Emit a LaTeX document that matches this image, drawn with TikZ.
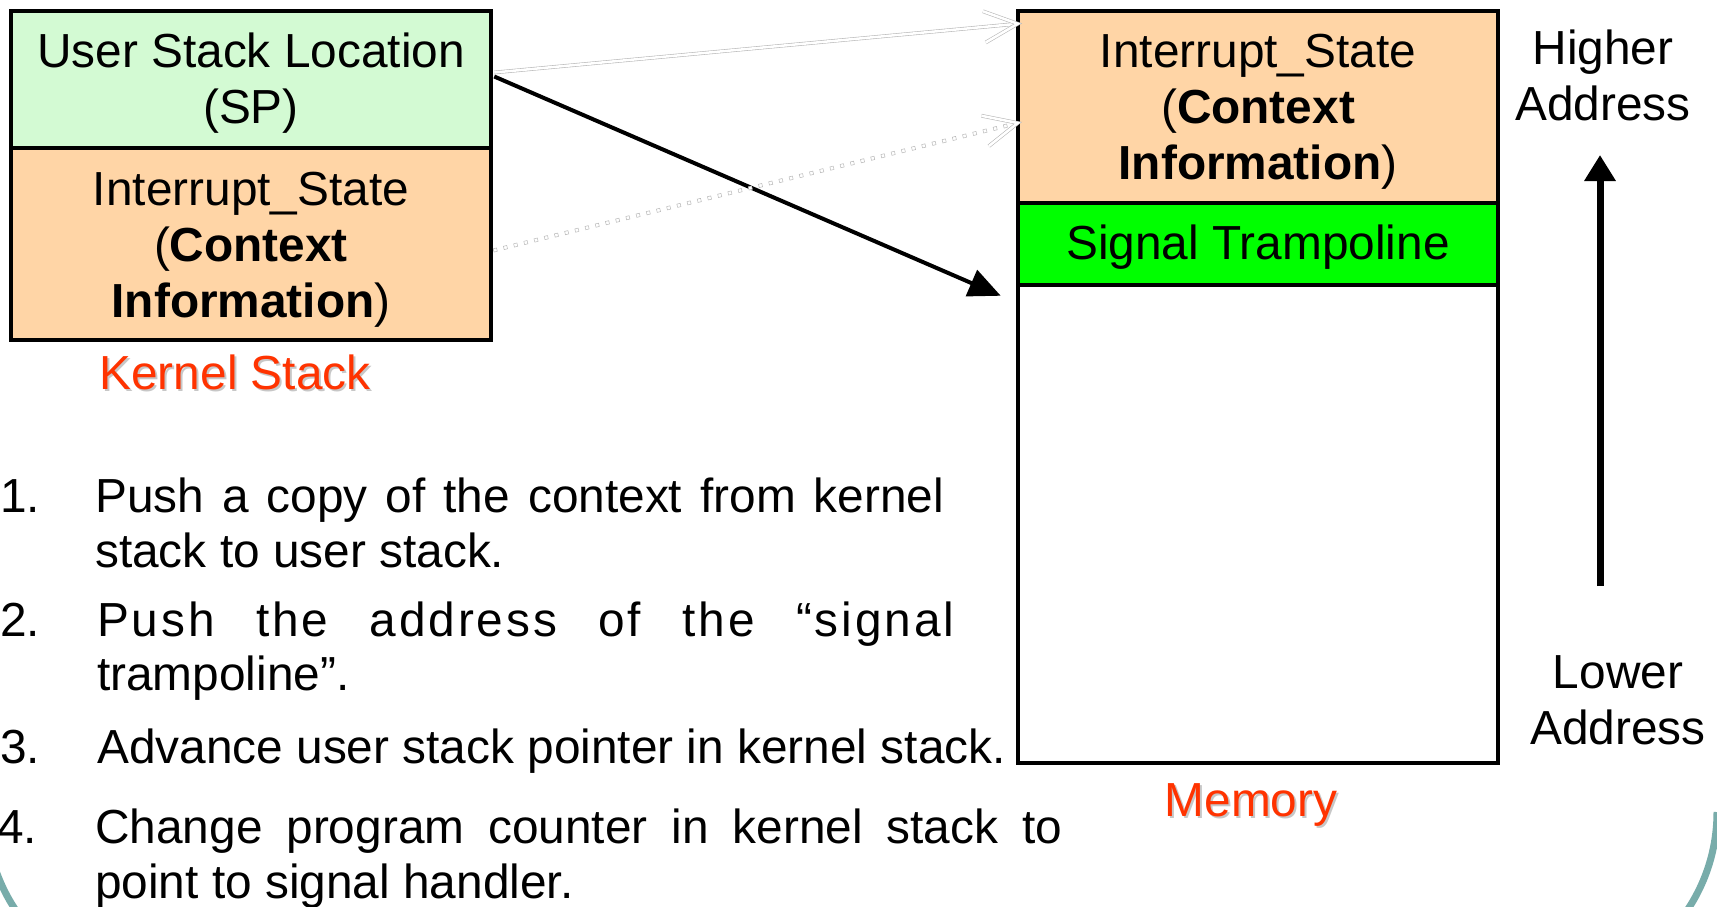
\documentclass[tikz,border=0pt]{standalone}
\usepackage{fontspec}
\setmainfont{Liberation Sans}
\usetikzlibrary{arrows.meta,calc,decorations.markings}
\definecolor{ksgreen}{RGB}{211,250,211}
\definecolor{peach}{RGB}{255,213,166}
\definecolor{trampgreen}{RGB}{0,255,0}
\definecolor{lblred}{RGB}{255,51,0}
\definecolor{slideteal}{RGB}{120,172,170}
\definecolor{ghostgray}{RGB}{185,185,185}
\newcommand\dfont{\fontsize{47.8}{56}\selectfont}
\newcommand\shadowlbl[1]{\makebox[0pt][l]{\hspace{2pt}\raisebox{-2pt}{\textcolor{black!22}{#1}}}\textcolor{lblred}{#1}}
\begin{document}
\begin{tikzpicture}[x=1pt,y=-1pt,
  membox/.style={draw=black, line width=4.5pt, minimum width=480pt, inner sep=0pt},
  boxtxt/.style={inner sep=0pt, align=center, font=\dfont},
  plaintext/.style={inner sep=0pt, align=center, font=\dfont},
  itemtext/.style={inner sep=0pt, anchor=base west, font=\dfont},
  redlbl/.style={inner sep=0pt, anchor=base, font=\dfont},
  slideedge/.style={draw=slideteal, line width=7pt},
  ghostline/.style={draw=ghostgray, line width=0.6pt, double=white, double distance=2.5pt, line join=miter},
  ghostdots/.style={decoration={markings, mark=between positions 0 and 1 step 10.5pt with {\draw[draw=ghostgray, line width=0.5pt, fill=white] (-1.7pt,-1.7pt) rectangle (1.7pt,1.7pt);}}, postaction={decorate}},
  blackarrow/.style={draw=black, line width=4pt, -{Triangle[length=32pt,width=28pt]}},
  uparrow/.style={draw=black, line width=7pt, -{Triangle[length=26pt,width=30pt]}}
]
\useasboundingbox (0,0) rectangle (1717,906);
\fill[white] (0,0) rectangle (1717,906);
% slide border arcs
\begin{scope}
\clip (0,0) rectangle (1717,906);
\draw[slideedge] (1717,812) arc[start angle=0,end angle=90,radius=177];
\draw[slideedge] (-14,812) arc[start angle=180,end angle=90,radius=177];
\end{scope}

% kernel stack
\node[membox, fill=ksgreen, minimum height=137pt,
  label={[boxtxt, yshift=-4pt]center:{User Stack Location\\(SP)}}] (ksTop) at (251,79.5) {};
\node[membox, fill=peach, minimum height=192pt,
  label={[boxtxt, yshift=-5.5pt]center:{Interrupt\_State\\(\textbf{Context}\\\textbf{Information})}}] (ksBot) at (251,244) {};
\node[redlbl] (ksLbl) at (235,389) {\shadowlbl{Kernel Stack}};

% memory
\node[membox, fill=white, minimum height=478pt] (memRest) at (1258,524) {};
\node[membox, fill=peach, minimum height=192pt,
  label={[boxtxt, yshift=-4.5pt]center:{Interrupt\_State\\(\textbf{Context}\\\textbf{Information})}}] (memTop) at (1258,107) {};
\node[membox, fill=trampgreen, minimum height=82pt,
  label={[boxtxt, yshift=-3pt]center:{Signal Trampoline}}] (memTramp) at (1258,244) {};
\node[redlbl] (memLbl) at (1251,816) {\shadowlbl{Memory}};

% address direction
\node[plaintext] (hiAddr) at (1603,75) {Higher\\Address};
\node[plaintext] (loAddr) at (1618,700) {Lower\\Address};
\coordinate (upS) at (1600,586);
\coordinate (upE) at (1600,155);
\draw[uparrow] (upS) -- (upE);

% connectors
\coordinate (gA) at ($(ksTop.east)+(1,-7)$);
\coordinate (gB) at ($(memTop.north west)+(2,15)$);
\coordinate (bA) at ($(ksTop.east)+(1,-3)$);
\coordinate (bB) at ($(memRest.north west)+(-15,13)$);
\coordinate (gC) at ($(ksBot.east)+(2,6)$);
\coordinate (gD) at ($(memTop.west)+(2,16)$);

\draw[ghostline] (gA) -- ($(gB)!5pt!(gA)$);
\draw[ghostline] ($(gB)!37pt!25:(gA)$) -- (gB) -- ($(gB)!37pt!-25:(gA)$);
\draw[blackarrow] (bA) -- (bB);
\path[ghostdots] (gC) -- ($(gD)!8pt!(gC)$);
\draw[ghostline] ($(gD)!37pt!25:(gC)$) -- (gD) -- ($(gD)!37pt!-25:(gC)$);

% list
\node[itemtext] (n1) at (0,512) {1.};
\node[itemtext] (l1a) at (95,512) {\makebox[849pt][s]{Push a copy of the context from kernel}};
\node[itemtext] (l1b) at (95,567) {stack to user stack.};
\node[itemtext] (n2) at (0,636) {2.};
\node[itemtext] (l2a) at (97,636) {\makebox[857pt][s]{\addfontfeature{LetterSpace=6}Push the address of the “signal}};
\node[itemtext] (l2b) at (97,690) {trampoline”.};
\node[itemtext] (n3) at (0,763) {3.};
\node[itemtext] (l3) at (97,763) {Advance user stack pointer in kernel stack.};
\node[itemtext] (n4) at (-3,843) {4.};
\node[itemtext] (l4a) at (95,843) {\makebox[967pt][s]{Change program counter in kernel stack to}};
\node[itemtext] (l4b) at (95,898) {point to signal handler.};
\end{tikzpicture}
\end{document}
